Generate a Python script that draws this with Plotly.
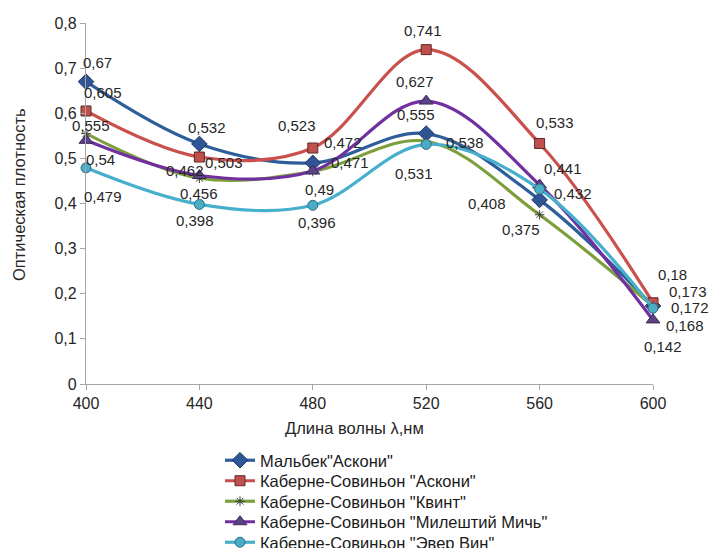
import plotly.graph_objects as go

# ---- data ----
wavelengths = [400, 440, 480, 520, 560, 600]
series_names = [
    'Мальбек"Аскони"',
    'Каберне-Совиньон "Аскони"',
    'Каберне-Совиньон "Квинт"',
    'Каберне-Совиньон "Милештий Мичь"',
    'Каберне-Совиньон "Эвер Вин"',
]
malbec_askoni = [0.67, 0.532, 0.49, 0.555, 0.408, 0.173]
cabernet_askoni = [0.605, 0.503, 0.523, 0.741, 0.533, 0.18]
cabernet_kvint = [0.555, 0.456, 0.471, 0.538, 0.375, 0.172]
cabernet_mileshtii = [0.54, 0.462, 0.472, 0.627, 0.441, 0.142]
cabernet_ever_vin = [0.479, 0.398, 0.396, 0.531, 0.432, 0.168]
y_ticks = [0, 0.1, 0.2, 0.3, 0.4, 0.5, 0.6, 0.7, 0.8]
x_title = "Длина волны λ,нм"
y_title = "Оптическая плотность"

all_series = [malbec_askoni, cabernet_askoni, cabernet_kvint, cabernet_mileshtii, cabernet_ever_vin]

# ---- styles ----
line_colors = ["#2E5E9A", "#C9504B", "#7C9F3C", "#7030A0", "#46AFCB"]
marker_styles = [
    dict(symbol="diamond", size=12, color="#2F5597", line=dict(color="#1F3864", width=1)),
    dict(symbol="square", size=10, color="#C0504D", line=dict(color="#5a2a28", width=1)),
    dict(symbol="asterisk-open", size=8, color="#404040", line=dict(color="#404040", width=1)),
    dict(symbol="triangle-up", size=12, color="#5B4285", line=dict(color="#3a2a58", width=1)),
    dict(symbol="circle", size=10, color="#4BACC6", line=dict(color="#2a6f82", width=1)),
]
# label offsets in pixels (dx right, dy down)
label_offsets = [
    [(11, -19), (8, -16), (7, 27), (-10, -19), (-53, 4), (35, -14)],
    [(17, -18), (25, 5), (-16, -23), (-3, -19), (15, -21), (19, -28)],
    [(5, -8), (0, 15), (37, -9), (39, 1), (-19, 15), (37, 1)],
    [(14, 19), (-14, -5), (30, -29), (-11, -20), (23, -17), (10, 27)],
    [(17, 29), (-4, 16), (4, 17), (-12, 29), (33, 4), (32, 17)],
]

FONT = "Liberation Sans, Arial, sans-serif"
W, H = 715, 548
legend_ids = ["legend", "legend2", "legend3", "legend4", "legend5"]

fig = go.Figure()
for name, vals, lc, ms, lid in zip(series_names, all_series, line_colors, marker_styles, legend_ids):
    fig.add_trace(go.Scatter(
        x=wavelengths, y=vals, name=name, mode="lines+markers",
        line=dict(color=lc, width=3.2, shape="spline", smoothing=1.0),
        marker=ms, cliponaxis=False, legend=lid,
    ))

annotations = []
for vals, offs in zip(all_series, label_offsets):
    for xv, yv, (dx, dy) in zip(wavelengths, vals, offs):
        annotations.append(dict(
            x=xv, y=yv, xref="x", yref="y", text=f"{yv:g}".replace(".", ","),
            showarrow=False, xshift=dx, yshift=-dy,
            font=dict(family=FONT, size=15, color="#262626"),
        ))

# axis titles
annotations.append(dict(
    text=x_title, xref="paper", yref="paper", x=(354 - 86) / (653 - 86), y=0,
    yshift=-(428 - 384), showarrow=False, xanchor="center", yanchor="middle",
    font=dict(family=FONT, size=16.5, color="#262626"),
))
annotations.append(dict(
    text=y_title, xref="paper", yref="paper", x=0, y=(384 - 195) / (384 - 23),
    xshift=-(86 - 19), showarrow=False, xanchor="center", yanchor="middle", textangle=-90,
    font=dict(family=FONT, size=16.5, color="#262626"),
))

legend_layout = {}
for i, lid in enumerate(legend_ids):
    legend_layout[lid] = dict(
        xref="container", yref="container",
        x=220 / W, y=1 - (443 + 20.5 * i) / H, xanchor="left", yanchor="top",
        font=dict(family=FONT, size=16.5, color="#1a1a1a"),
        bgcolor="rgba(0,0,0,0)",
    )

fig.update_layout(
    width=W, height=H,
    margin=dict(l=86, r=62, t=23, b=164, autoexpand=False),
    paper_bgcolor="white", plot_bgcolor="white",
    separators=", ",
    font=dict(family=FONT, color="#262626"),
    annotations=annotations,
    showlegend=True,
    **legend_layout,
)
fig.update_xaxes(
    range=[400, 600], tickvals=wavelengths, ticktext=[str(w) for w in wavelengths],
    showline=True, linecolor="#a6a6a6", linewidth=1.3,
    ticks="outside", ticklen=5, tickcolor="#a6a6a6",
    showgrid=False, zeroline=False,
    tickfont=dict(family=FONT, size=16, color="#262626"),
)
fig.update_yaxes(
    range=[0, 0.8], tickvals=y_ticks,
    showline=True, linecolor="#a6a6a6", linewidth=1.3,
    ticks="outside", ticklen=5, tickcolor="#a6a6a6",
    showgrid=False, zeroline=False,
    tickfont=dict(family=FONT, size=16, color="#262626"),
)

fig.write_html("out.html")
